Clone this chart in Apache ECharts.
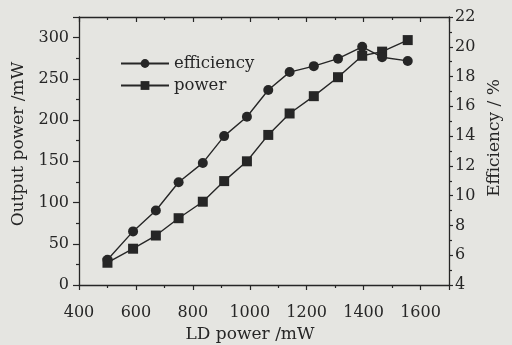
<!DOCTYPE html>
<html><head><meta charset="utf-8">
<script src="https://cdn.jsdelivr.net/npm/echarts@6/dist/echarts.min.js"></script>
<style>html,body{margin:0;padding:0;background:#e5e5e1;}#c{width:512px;height:345px;}</style>
</head><body><div id="c"></div>
<script>
const ldPower = [500, 590, 670, 750, 835, 910, 990, 1065, 1140, 1225, 1310, 1395, 1465, 1555];
const outputPower = [27, 44, 60, 81, 101, 126, 150, 182, 208, 229, 252, 278, 283, 297];
const efficiency = [5.7, 7.6, 9.0, 10.9, 12.2, 14.0, 15.3, 17.1, 18.3, 18.7, 19.2, 20.0, 19.3, 19.05];

const FONT = 'DejaVu Serif';
const INK = '#262626';
const chart = echarts.init(document.getElementById('c'), null, {renderer: 'canvas'});
const lineStyle = {color: INK, width: 1.3};
const tickStyle = {color: INK, width: 1.2};
const plain = v => String(v);
chart.setOption({
  backgroundColor: '#e5e5e1',
  animation: false,
  grid: {left: 79, right: 63, top: 17, bottom: 60, show: false, containLabel: false, outerBoundsMode: 'none'},
  legend: {
    orient: 'vertical', left: 115, top: 50, itemWidth: 48, itemHeight: 11, itemGap: 5,
    textStyle: {fontFamily: FONT, fontSize: 16.5, color: INK},
    data: ['efficiency', 'power']
  },
  xAxis: [{
    type: 'value', min: 400, max: 1700, interval: 200, position: 'bottom',
    name: 'LD power /mW', nameLocation: 'middle', nameGap: 41,
    nameTextStyle: {fontFamily: FONT, fontSize: 17, color: INK, padding: [0, 28, 0, 0]},
    axisLine: {lineStyle: lineStyle},
    axisTick: {inside: false, length: 5, lineStyle: tickStyle},
    minorTick: {show: true, splitNumber: 2, length: 3, lineStyle: tickStyle},
    axisLabel: {fontFamily: FONT, fontSize: 16, color: INK, margin: 20, showMaxLabel: false, formatter: plain},
    splitLine: {show: false}
  }, {
    type: 'value', min: 400, max: 1700, interval: 200, position: 'top',
    axisLine: {lineStyle: lineStyle},
    axisTick: {inside: true, length: 5, lineStyle: tickStyle},
    minorTick: {show: true, splitNumber: 2, length: 3, lineStyle: tickStyle},
    axisLabel: {show: false}, splitLine: {show: false}
  }],
  yAxis: [{
    type: 'value', min: 0, max: 325, interval: 50, position: 'left',
    name: 'Output power /mW', nameLocation: 'middle', nameGap: 50, nameRotate: 90,
    nameTextStyle: {fontFamily: FONT, fontSize: 17, color: INK, padding: [0, 0, 0, 14]},
    axisLine: {show: true, lineStyle: lineStyle},
    axisTick: {show: true, inside: false, length: 6, lineStyle: tickStyle},
    minorTick: {show: true, splitNumber: 2, length: 3, lineStyle: tickStyle},
    axisLabel: {fontFamily: FONT, fontSize: 16, color: INK, margin: 10, showMaxLabel: false},
    splitLine: {show: false}
  }, {
    type: 'value', min: 4, max: 22, interval: 2, position: 'right',
    name: 'Efficiency / %', nameLocation: 'middle', nameGap: 36, nameRotate: 90,
    nameTextStyle: {fontFamily: FONT, fontSize: 17, color: INK, padding: [0, 0, 0, 26]},
    axisLine: {show: true, lineStyle: lineStyle},
    axisTick: {show: true, inside: false, length: 4, lineStyle: tickStyle},
    minorTick: {show: true, splitNumber: 2, length: 3, lineStyle: tickStyle},
    axisLabel: {fontFamily: FONT, fontSize: 16, color: INK, margin: 6},
    splitLine: {show: false}
  }],
  series: [{
    name: 'efficiency', type: 'line', xAxisIndex: 0, yAxisIndex: 1,
    data: ldPower.map((x, i) => [x, efficiency[i]]),
    symbol: 'circle', symbolSize: 10,
    itemStyle: {color: INK}, lineStyle: {color: INK, width: 1.4}, z: 3
  }, {
    name: 'power', type: 'line', xAxisIndex: 0, yAxisIndex: 0,
    data: ldPower.map((x, i) => [x, outputPower[i]]),
    symbol: 'rect', symbolSize: 10,
    itemStyle: {color: INK}, lineStyle: {color: INK, width: 1.4}, z: 2
  }]
});
</script></body></html>
